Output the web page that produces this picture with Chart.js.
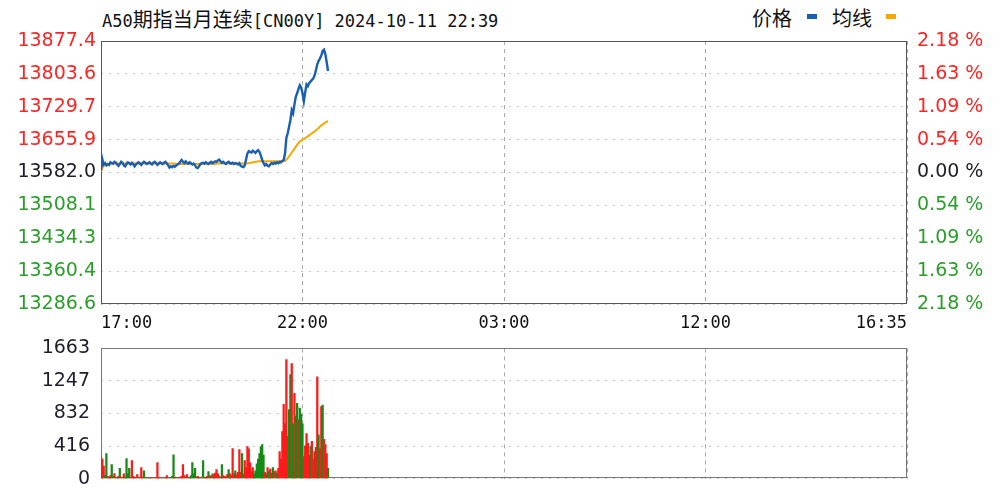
<!DOCTYPE html>
<html><head><meta charset="utf-8">
<script src="https://cdn.jsdelivr.net/npm/chart.js@4/dist/chart.umd.min.js"></script>
<style>
html,body{margin:0;padding:0;background:#fff;width:1008px;height:488px;overflow:hidden;position:relative;}
.t{position:absolute;white-space:pre;color:#111;line-height:1;}
.mono{font-family:"DejaVu Sans Mono","Liberation Mono",monospace;font-size:17px;}
.cjk{font-family:"Noto Sans CJK SC",sans-serif;font-size:20px;}
.mk{position:absolute;width:10px;height:5px;}
canvas{position:absolute;left:0;}
</style></head>
<body>
<div class="t" style="left:102px;top:9px;"><span class="mono">A50</span><span class="cjk">期指当月连续</span><span class="mono">[CN00Y] 2024-10-11 22:39</span></div>
<div class="t cjk" style="left:752px;top:8px;">价格</div>
<div class="mk" style="left:807px;top:14px;background:#1a5fb4;"></div>
<div class="t cjk" style="left:832px;top:8px;">均线</div>
<div class="mk" style="left:886px;top:14px;background:#f5a800;"></div>
<canvas id="c1" width="1008" height="336" style="top:0;"></canvas>
<canvas id="c2" width="1008" height="175" style="top:326px;"></canvas>
<script>
// ---- data ----
const priceTicks = [13877.4, 13803.6, 13729.7, 13655.9, 13582.0, 13508.1, 13434.3, 13360.4, 13286.6];
const pctLabels  = ['2.18', '1.63', '1.09', '0.54', '0.00', '0.54', '1.09', '1.63', '2.18'];
const volTicks   = [1663, 1247, 832, 416, 0];
const timeLabels = ['17:00', '22:00', '03:00', '12:00', '16:35'];
const timeTickPos = [0, 300, 600, 900, 1200]; // trading minutes from 17:00
const stepMin = 2; // minutes between samples

const price = [13586,13612,13600,13603,13598,13601,13599,13605,13603,13602,
 13606,13604,13600,13597,13601,13606,13604,13598,13596,13601,
 13605,13603,13600,13604,13601,13596,13600,13603,13605,13602,
 13599,13603,13606,13604,13601,13603,13605,13602,13600,13604,
 13606,13603,13599,13602,13605,13603,13601,13604,13606,13602,
 13598,13593,13596,13594,13597,13595,13598,13600,13602,13606,
 13610,13606,13603,13607,13604,13602,13605,13603,13600,13602,
 13598,13593,13592,13596,13601,13603,13604,13602,13605,13603,
 13601,13604,13606,13603,13605,13607,13606,13609,13611,13607,
 13604,13606,13603,13601,13604,13606,13603,13602,13604,13601,
 13603,13602,13600,13603,13597,13595,13594,13598,13612,13625,
 13630,13628,13627,13631,13629,13626,13630,13632,13628,13620,
 13610,13603,13598,13601,13597,13596,13600,13603,13601,13604,
 13602,13605,13603,13606,13605,13608,13610,13625,13660,13670,
 13685,13700,13722,13715,13735,13752,13760,13770,13778,13773,
 13760,13742,13762,13780,13776,13783,13786,13790,13793,13800,
 13812,13825,13833,13838,13845,13855,13858,13848,13830,13810];

const avgPrice = [13584,13592,13597,13599,13600,13601,13601,13602,13602,13602,
 13602,13602,13602,13602,13602,13602,13602,13602,13602,13602,
 13602,13602,13602,13602,13602,13602,13602,13602,13602,13602,
 13602,13602,13602,13602,13602,13602,13602,13602,13602,13602,
 13602,13602,13602,13602,13602,13602,13602,13602,13602,13602,
 13602,13602,13602,13602,13602,13602,13601,13601,13601,13601,
 13601,13601,13601,13601,13601,13601,13601,13601,13601,13601,
 13601,13601,13601,13601,13601,13601,13601,13601,13601,13601,
 13601,13601,13601,13601,13601,13601,13602,13602,13602,13602,
 13602,13602,13602,13602,13602,13602,13602,13602,13602,13602,
 13602,13602,13602,13602,13602,13602,13602,13602,13602,13603,
 13603,13604,13604,13605,13605,13606,13606,13607,13607,13607,
 13607,13607,13607,13607,13607,13607,13607,13607,13607,13607,
 13607,13607,13607,13607,13607,13607,13608,13608,13611,13614,
 13618,13622,13627,13631,13635,13640,13644,13648,13651,13654,
 13656,13657,13659,13661,13663,13666,13668,13670,13672,13674,
 13677,13679,13682,13685,13688,13690,13692,13694,13696,13697];

const volume = [280,250,160,40,320,30,20,40,180,30,
 65,20,15,30,130,20,15,60,20,255,
 60,130,20,230,30,15,20,50,10,15,
 140,20,100,15,10,8,10,5,10,8,
 5,10,205,15,10,8,10,5,10,40,
 10,8,15,30,305,20,10,15,10,20,
 30,180,40,20,50,15,10,40,205,60,
 130,20,30,15,10,20,230,20,15,30,
 90,40,30,60,50,70,115,60,30,20,
 180,40,30,20,50,115,60,40,384,60,
 100,50,80,370,80,320,60,230,140,410,
 380,200,90,140,60,100,190,250,320,410,
 435,300,80,60,140,90,120,70,140,90,
 100,70,130,345,250,600,950,700,1520,540,
 880,1330,1470,700,1090,800,960,750,900,820,
 700,280,420,575,450,300,410,475,250,345,
 400,1300,560,380,920,940,500,435,320,130];

const volUp = [1,1,1,0,0,1,1,1,0,0,
 1,1,0,1,0,1,1,1,0,0,
 0,0,1,1,1,0,1,1,0,1,
 1,1,0,0,1,1,0,1,1,0,
 1,1,1,1,0,1,1,0,1,1,
 0,1,0,0,0,1,1,0,1,1,
 1,1,1,0,1,1,0,0,0,0,
 0,1,1,0,1,1,0,0,1,1,
 0,1,1,0,1,1,1,1,1,0,
 0,1,1,0,1,0,1,1,1,1,
 0,1,1,1,1,0,0,1,1,1,
 1,1,1,1,0,0,0,0,0,0,
 0,0,1,0,1,0,1,1,0,1,
 1,0,1,1,1,1,1,1,1,1,
 0,0,1,0,1,0,0,1,0,0,
 0,1,1,1,1,1,0,1,1,1,
 0,1,0,1,1,0,1,1,1,0];

// ---- styles ----
const RED = '#ff2424', GREEN = '#2a9e2a', DARK = '#1e1e2a';
const baseline = priceTicks[4];
const pMin = Math.min(...priceTicks), pMax = Math.max(...priceTicks);
const labelColor = ctx => {
  const v = ctx.tick.value;
  if (Math.abs(v - baseline) < 1e-6) return DARK;
  return v > baseline ? RED : GREEN;
};
const frame = {
  id: 'frame',
  beforeDatasetsDraw(chart, args, opts) {
    const a = chart.chartArea, c = chart.ctx;
    c.save();
    c.strokeStyle = opts.color || '#555';
    c.lineWidth = 1;
    c.setLineDash([]);
    c.strokeRect(Math.round(a.left) + 0.5, Math.round(a.top) + 0.5,
                 Math.round(a.right - a.left) - 1, Math.round(a.bottom - a.top) - 1);
    c.restore();
  }
};
const xTicks = s => { s.ticks = timeTickPos.map(v => ({ value: v })); };

new Chart(document.getElementById('c1'), {
  type: 'line',
  data: {
    datasets: [
      { label: '价格', data: price.map((v, i) => ({ x: i * stepMin, y: v })),
        borderColor: '#1a5fb4', borderWidth: 2.4, pointRadius: 0, tension: 0, order: 0 },
      { label: '均线', data: avgPrice.map((v, i) => ({ x: i * stepMin, y: v })),
        borderColor: '#f5a800', borderWidth: 2, pointRadius: 0, tension: 0, order: 1 }
    ]
  },
  options: {
    responsive: false, animation: false,
    layout: { padding: { top: 41, left: 0, right: 0, bottom: 0 } },
    plugins: { legend: { display: false }, tooltip: { enabled: false }, frame: { color: '#555' } },
    scales: {
      x: {
        type: 'linear', min: 0, max: 1200, offset: false,
        afterBuildTicks: xTicks,
        afterFit: s => { s.height = 32; },
        ticks: { callback: v => timeLabels[timeTickPos.indexOf(v)], align: 'inner', maxRotation: 0,
                 autoSkip: false, color: '#111', padding: 9,
                 font: { family: 'DejaVu Sans Mono', size: 17 } },
        grid: { color: '#a9a9a9', lineWidth: 1, drawTicks: false, offset: false },
        border: { display: false, dash: [4, 4] }
      },
      y: {
        position: 'left', min: pMin, max: pMax,
        afterBuildTicks: s => { s.ticks = priceTicks.slice().reverse().map(v => ({ value: v })); },
        afterFit: s => { s.width = 101; },
        ticks: { callback: v => v.toFixed(1), color: labelColor, padding: 5, autoSkip: false,
                 font: { family: 'DejaVu Sans', size: 19 } },
        grid: { color: '#c3c8d2', lineWidth: 1, drawTicks: false },
        border: { display: false, dash: [2, 6] }
      },
      yR: {
        position: 'right', min: pMin, max: pMax,
        afterBuildTicks: s => { s.ticks = priceTicks.slice().reverse().map(v => ({ value: v })); },
        afterFit: s => { s.width = 101; },
        ticks: { callback: v => pctLabels[priceTicks.indexOf(v)] + ' %', color: labelColor,
                 padding: 10, autoSkip: false, font: { family: 'DejaVu Sans', size: 19 } },
        grid: { display: false, drawTicks: false },
        border: { display: false }
      }
    }
  },
  plugins: [frame]
});

new Chart(document.getElementById('c2'), {
  type: 'bar',
  data: {
    datasets: [{
      label: '成交量',
      data: volume.map((v, i) => ({ x: i * stepMin, y: v })),
      backgroundColor: volume.map((v, i) => volUp[i] ? '#ff1a1a' : '#168a16'),
      borderWidth: 0, barThickness: 1.6
    }]
  },
  options: {
    responsive: false, animation: false,
    layout: { padding: { top: 17, left: 0, right: 101, bottom: 11 } },
    plugins: { legend: { display: false }, tooltip: { enabled: false }, frame: { color: '#777' } },
    scales: {
      x: {
        type: 'linear', min: 0, max: 1200, offset: false,
        afterBuildTicks: xTicks,
        afterFit: s => { s.height = 0; },
        ticks: { display: false },
        grid: { color: '#a9a9a9', lineWidth: 1, drawTicks: false, offset: false },
        border: { display: false, dash: [4, 4] }
      },
      y: {
        position: 'left', min: 0, max: volTicks[0],
        afterBuildTicks: s => { s.ticks = volTicks.slice().reverse().map(v => ({ value: v })); },
        afterFit: s => { s.width = 101; },
        ticks: { callback: v => String(v), color: DARK, padding: 11, autoSkip: false,
                 font: { family: 'DejaVu Sans', size: 19 } },
        grid: { color: '#c3c8d2', lineWidth: 1, drawTicks: false },
        border: { display: false, dash: [2, 6] }
      }
    }
  },
  plugins: [frame]
});
</script>
</body></html>
